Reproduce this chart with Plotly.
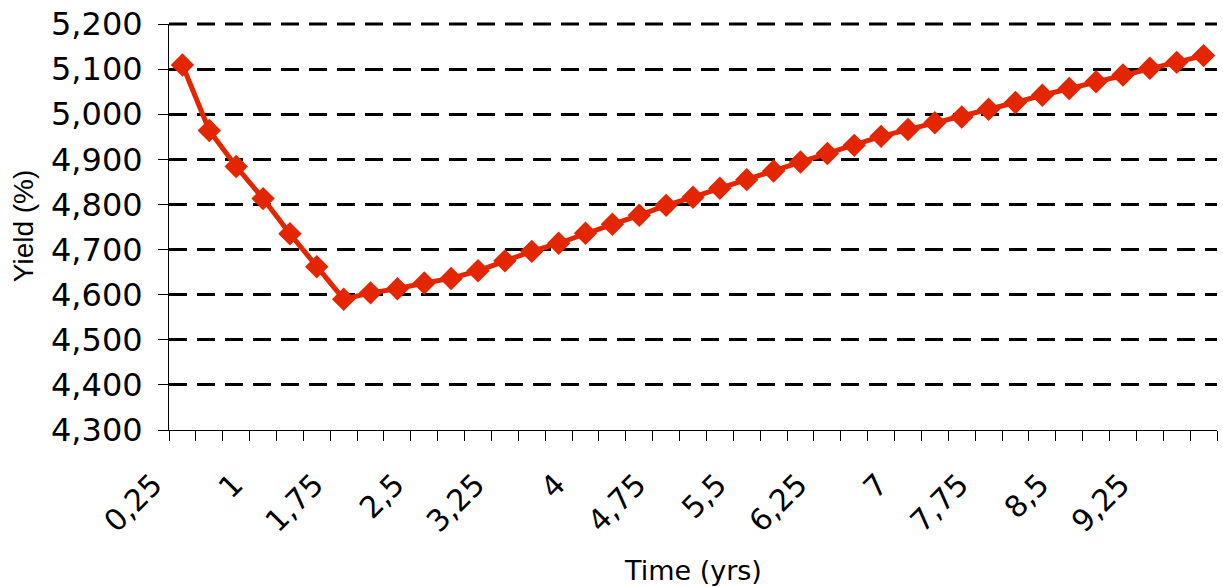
import plotly.graph_objects as go

# Data
times = [0.25, 0.5, 0.75, 1.0, 1.25, 1.5, 1.75, 2.0, 2.25, 2.5, 2.75, 3.0, 3.25,
         3.5, 3.75, 4.0, 4.25, 4.5, 4.75, 5.0, 5.25, 5.5, 5.75, 6.0, 6.25, 6.5,
         6.75, 7.0, 7.25, 7.5, 7.75, 8.0, 8.25, 8.5, 8.75, 9.0, 9.25, 9.5, 9.75]
yields = [5.109, 4.964, 4.884, 4.813, 4.735, 4.662, 4.590, 4.604, 4.613, 4.626,
          4.636, 4.653, 4.675, 4.696, 4.714, 4.736, 4.756, 4.776, 4.798, 4.816,
          4.836, 4.855, 4.874, 4.894, 4.913, 4.931, 4.951, 4.966, 4.981, 4.994,
          5.011, 5.026, 5.042, 5.057, 5.072, 5.087, 5.102, 5.115, 5.130]
tick_vals = [0.25, 1.0, 1.75, 2.5, 3.25, 4.0, 4.75, 5.5, 6.25, 7.0, 7.75, 8.5, 9.25]
tick_text = ["0,25", "1", "1,75", "2,5", "3,25", "4", "4,75", "5,5", "6,25", "7",
             "7,75", "8,5", "9,25"]
y_ticks = [4.3, 4.4, 4.5, 4.6, 4.7, 4.8, 4.9, 5.0, 5.1, 5.2]

RED = "rgb(228,38,0)"
FONT = "DejaVu Sans"
DASH = "18px,10px"

fig = go.Figure()
fig.add_trace(go.Scatter(
    x=times, y=yields, mode="lines+markers",
    line=dict(color=RED, width=5),
    marker=dict(symbol="diamond", size=18, color=RED),
    showlegend=False,
))

fig.update_layout(
    width=1223, height=587,
    margin=dict(l=169, r=6, t=24, b=157, autoexpand=False),
    paper_bgcolor="white", plot_bgcolor="white",
    separators=",.",
    font=dict(family=FONT, color="black"),
    showlegend=False,
)

fig.update_xaxes(
    range=[0.125, 9.875],
    tickmode="array", tickvals=tick_vals, ticktext=tick_text,
    tickangle=-45, tickfont=dict(size=30, family=FONT, color="black"),
    ticks="", ticklen=0,
    ticklabelshift=-29, ticklabelstandoff=24,
    showgrid=False, zeroline=False,
    showline=True, linecolor="black", linewidth=1,
    minor=dict(tickmode="linear", tick0=0.125, dtick=0.25, ticks="outside",
               ticklen=10, tickcolor="black", tickwidth=1, showgrid=False),
)
fig.update_yaxes(
    range=[4.3, 5.2],
    tickmode="array", tickvals=y_ticks, tickformat=".3f",
    tickfont=dict(size=32, family=FONT, color="black"),
    ticklabeloverflow="allow",
    ticks="outside", ticklen=10, tickcolor="black", tickwidth=1,
    ticklabelstandoff=9,
    showgrid=True, gridcolor="black", gridwidth=3, griddash=DASH,
    zeroline=False,
    showline=True, linecolor="black", linewidth=1,
)

# top gridline (plotly drops the grid line at the range edge)
fig.add_shape(type="line", xref="paper", yref="paper", x0=0, x1=1,
              y0=1, y1=1,
              line=dict(color="black", width=3, dash=DASH), layer="below")

fig.add_annotation(text="Time (yrs)", xref="paper", yref="paper",
                   x=0.5, y=-0.345, xanchor="center", yanchor="middle",
                   showarrow=False, font=dict(size=27, family=FONT, color="black"))
fig.add_annotation(text="Yield (%)", xref="paper", yref="paper",
                   x=-0.1393, y=0.502, xanchor="center", yanchor="middle",
                   textangle=-90, showarrow=False,
                   font=dict(size=28, family="Liberation Sans", color="black"))

fig.write_html("out.html",
               config={"displayModeBar": False},
               post_script="document.body.style.margin='0';document.body.style.overflow='hidden';")
